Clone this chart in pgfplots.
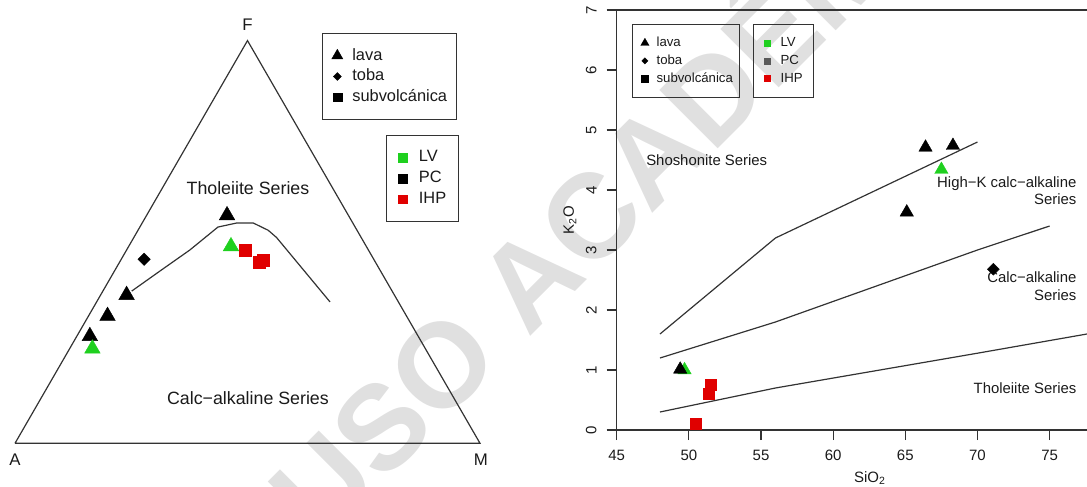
\documentclass[border=0pt]{standalone}
\usepackage{fontspec}
\setmainfont{Liberation Sans}
\usepackage{pgfplots}
\usepackage{pgfplotstable}
\pgfplotsset{compat=1.18}

\definecolor{ln}{HTML}{333333}
\definecolor{txt}{HTML}{1A1A1A}
\definecolor{lvg}{HTML}{1FD01F}
\definecolor{ihpr}{HTML}{E00000}
\definecolor{pcg}{HTML}{595959}
\definecolor{wm}{HTML}{E0E0E0}

% ---------- AFM diagram (percent A, F, M) ----------
\pgfplotstableread{
A F M
100 0 0
0 0 100
0 100 0
100 0 0
}\tri
\pgfplotstableread{
A F M
56.0 37.8 6.2
47.4 42.8 9.8
38.4 48.0 13.6
29.5 53.7 16.8
25.0 54.7 20.3
21.4 54.7 23.9
19.1 52.9 28.0
18.2 51.1 30.7
14.7 35.1 50.2
}\ib
\pgfplotstableread{
A F M
26.1 56.6 17.3
57.6 36.8 5.6
64.3 31.6 4.1
70.6 26.6 2.8
}\afmLavaPC
\pgfplotstableread{
A F M
29.1 48.9 22.0
71.6 23.5 4.9
}\afmLavaLV
\pgfplotstableread{
A F M
49.4 45.7 4.9
}\afmTobaPC
\pgfplotstableread{
A F M
26.5 48.0 25.5
25.0 45.0 30.0
23.9 45.4 30.7
}\afmSubIHP

% ---------- K2O vs SiO2 ----------
\pgfplotstableread{
x y
48 1.6
56 3.2
63 4.0
70 4.8
}\bndA
\pgfplotstableread{
x y
48 1.2
56 1.8
63 2.4
70 3.0
75 3.4
}\bndB
\pgfplotstableread{
x y
48 0.3
56 0.7
70 1.28
77.59 1.6
}\bndC
\pgfplotstableread{
x y
66.4 4.71
68.3 4.74
65.1 3.63
49.4 1.01
}\kLavaPC
\pgfplotstableread{
x y
67.5 4.34
49.7 1.00
}\kLavaLV
\pgfplotstableread{
x y
71.1 2.68
}\kTobaPC
\pgfplotstableread{
x y
51.5 0.75
51.35 0.60
50.5 0.10
}\kSubIHP

\newcommand{\afmx}{(\thisrow{M}+0.5*\thisrow{F})/100}
\newcommand{\afmy}{0.8660254*\thisrow{F}/100}

\begin{document}
\begin{tikzpicture}
\useasboundingbox (0,0) rectangle (543.5pt,243.5pt);
% watermark
\begin{scope}
\clip (0,0) rectangle (543.5pt,243.5pt);
\node[rotate=45, text=wm, font=\fontsize{60}{60}\selectfont\bfseries, inner sep=0pt, text height=43pt, text depth=0pt] at (328pt,168.5pt) {USO ACADÉMICO};
\end{scope}

% ================= LEFT: AFM =================
\begin{axis}[at={(7.5pt,21.85pt)}, anchor=south west, scale only axis,
  width=232.5pt, height=201.35pt, xmin=0, xmax=1, ymin=0, ymax=0.8660254,
  hide axis, clip=false]
\addplot[ln, line width=0.6pt, no markers] table[x expr=\afmx, y expr=\afmy] {\tri};
\addplot[ln, line width=0.6pt, no markers] table[x expr=\afmx, y expr=\afmy] {\ib};
\addplot[only marks, mark=triangle*, mark size=4.5pt, black, mark options={line width=0.2pt}] table[x expr=\afmx, y expr=\afmy] {\afmLavaPC};
\addplot[only marks, mark=triangle*, mark size=4.5pt, lvg, mark options={line width=0.2pt}] table[x expr=\afmx, y expr=\afmy] {\afmLavaLV};
\addplot[only marks, mark=square*, mark size=2.2pt, black, mark options={rotate=45, line width=0.2pt}] table[x expr=\afmx, y expr=\afmy] {\afmTobaPC};
\addplot[only marks, mark=square*, mark size=3.1pt, ihpr, mark options={line width=0.2pt}] table[x expr=\afmx, y expr=\afmy] {\afmSubIHP};
\node[anchor=base, inner sep=0pt, text=txt, font=\fontsize{8.9}{10}\selectfont] at (axis cs:0.501,0.536) {Tholeiite Series};
\node[anchor=base, inner sep=0pt, text=txt, font=\fontsize{8.9}{10}\selectfont] at (axis cs:0.501,0.0845) {Calc−alkaline Series};
\node[anchor=base, inner sep=0pt, text=txt, font=\fontsize{8.4}{10}\selectfont] at (axis cs:0.5,0.8867) {F};
\node[anchor=base, inner sep=0pt, text=txt, font=\fontsize{8.4}{10}\selectfont] at (axis cs:0,-0.0467) {A};
\node[anchor=base, inner sep=0pt, text=txt, font=\fontsize{8.4}{10}\selectfont] at (axis cs:1.002,-0.0467) {M};
\end{axis}

% left legend 1
\begin{axis}[at={(7.5pt,21.85pt)}, anchor=south west, scale only axis,
  width=232.5pt, height=201.35pt, xmin=0, xmax=1, ymin=0, ymax=1, hide axis,
  legend cell align=left,
  legend image code/.code={\path[draw=none,fill=none] (-3pt,0pt) -- (7.5pt,0pt); \draw plot[only marks] coordinates {(0pt,0pt)};},
  legend style={at={(0.6596,1.0196)}, anchor=north west, draw=ln, line width=0.6pt, fill=none,
    inner xsep=4.5pt, inner ysep=7.4pt, row sep=2.8pt, column sep=0pt,
    font=\fontsize{8.2}{9}\selectfont, text=txt,
    nodes={inner sep=0pt, text height=6pt, text depth=1.6pt}}]
\addlegendimage{only marks, mark=triangle*, mark size=3.2pt, black, mark options={line width=0.2pt}}
\addlegendimage{only marks, mark=square*, mark size=1.4pt, black, mark options={rotate=45, line width=0.2pt}}
\addlegendimage{only marks, mark=square*, mark size=2.2pt, black, mark options={line width=0.2pt}}
\legend{lava, toba, subvolcánica}
\end{axis}

% left legend 2
\begin{axis}[at={(7.5pt,21.85pt)}, anchor=south west, scale only axis,
  width=232.5pt, height=201.35pt, xmin=0, xmax=1, ymin=0, ymax=1, hide axis,
  legend cell align=left,
  legend image code/.code={\path[draw=none,fill=none] (-2.3pt,0pt) -- (8pt,0pt); \draw plot[only marks] coordinates {(0pt,0pt)};},
  legend style={at={(0.7972,0.7668)}, anchor=north west, draw=ln, line width=0.6pt, fill=none,
    inner xsep=6pt, inner ysep=7.4pt, row sep=2.8pt, column sep=0pt,
    font=\fontsize{8.2}{9}\selectfont, text=txt,
    nodes={inner sep=0pt, text height=6pt, text depth=1.6pt}}]
\addlegendimage{only marks, mark=square*, mark size=2.2pt, lvg, mark options={line width=0.2pt}}
\addlegendimage{only marks, mark=square*, mark size=2.2pt, black, mark options={line width=0.2pt}}
\addlegendimage{only marks, mark=square*, mark size=2.2pt, ihpr, mark options={line width=0.2pt}}
\legend{LV, PC, IHP}
\end{axis}

% ================= RIGHT: K2O vs SiO2 =================
\begin{axis}[at={(308.35pt,28.5pt)}, anchor=south west, scale only axis,
  width=235.15pt, height=210pt, xmin=45, xmax=77.59, ymin=0, ymax=7, clip=false,
  axis lines=left, axis line style={-, ln, line width=0.6pt},
  tick align=outside, major tick length=5pt, tick style={ln, line width=0.6pt},
  xtick={45,50,...,75}, ytick={0,1,...,7},
  /pgf/number format/assume math mode=true,
  ticklabel style={font=\fontsize{7.5}{9}\selectfont, text=txt},
  xticklabel style={yshift=-1.5pt},
  yticklabel style={xshift=-1.5pt, rotate=90, anchor=south},
  xlabel={SiO\textsubscript{2}}, ylabel={K\textsubscript{2}O},
  xlabel style={at={(axis description cs:0.5386,-0.1143)}, anchor=center, font=\fontsize{7.5}{9}\selectfont, text=txt},
  ylabel style={at={(axis description cs:-0.0993,0.5)}, anchor=center, font=\fontsize{7.5}{9}\selectfont, text=txt}]
\draw[ln, line width=0.6pt] (rel axis cs:0,1) -- (rel axis cs:1,1);
\addplot[ln, line width=0.6pt, no markers] table {\bndA};
\addplot[ln, line width=0.6pt, no markers] table {\bndB};
\addplot[ln, line width=0.6pt, no markers] table {\bndC};
\addplot[only marks, mark=triangle*, mark size=3.85pt, lvg, mark options={line width=0.2pt}] table {\kLavaLV};
\addplot[only marks, mark=triangle*, mark size=3.85pt, black, mark options={line width=0.2pt}] table {\kLavaPC};
\addplot[only marks, mark=square*, mark size=2.1pt, black, mark options={rotate=45, line width=0.2pt}] table {\kTobaPC};
\addplot[only marks, mark=square*, mark size=2.75pt, ihpr, mark options={line width=0.2pt}] table {\kSubIHP};
\node[anchor=base, inner sep=0pt, text=txt, font=\fontsize{7.45}{9}\selectfont] at (axis cs:51.24,4.41) {Shoshonite Series};
\node[anchor=base east, inner sep=0pt, text=txt, font=\fontsize{7.45}{9}\selectfont] at (axis cs:76.88,4.048) {High−K calc−alkaline};
\node[anchor=base east, inner sep=0pt, text=txt, font=\fontsize{7.45}{9}\selectfont] at (axis cs:76.88,3.76) {Series};
\node[anchor=base east, inner sep=0pt, text=txt, font=\fontsize{7.45}{9}\selectfont] at (axis cs:76.88,2.455) {Calc−alkaline};
\node[anchor=base east, inner sep=0pt, text=txt, font=\fontsize{7.45}{9}\selectfont] at (axis cs:76.88,2.16) {Series};
\node[anchor=base east, inner sep=0pt, text=txt, font=\fontsize{7.45}{9}\selectfont] at (axis cs:76.88,0.605) {Tholeiite Series};
\end{axis}

% right legend 1
\begin{axis}[at={(308.35pt,28.5pt)}, anchor=south west, scale only axis,
  width=235.15pt, height=210pt, xmin=0, xmax=1, ymin=0, ymax=1, hide axis,
  legend cell align=left,
  legend image code/.code={\path[draw=none,fill=none] (-2.95pt,0pt) -- (5.85pt,0pt); \draw plot[only marks] coordinates {(0pt,0pt)};},
  legend style={at={(0.0319,0.9667)}, anchor=north west, draw=ln, line width=0.6pt, fill=none,
    inner xsep=3.35pt, inner ysep=6.2pt, row sep=2.8pt, column sep=0pt,
    font=\fontsize{6.6}{8}\selectfont, text=txt,
    nodes={inner sep=0pt, text height=4.8pt, text depth=1.3pt}}]
\addlegendimage{only marks, mark=triangle*, mark size=2.4pt, black, mark options={line width=0.2pt}}
\addlegendimage{only marks, mark=square*, mark size=1.1pt, black, mark options={rotate=45, line width=0.2pt}}
\addlegendimage{only marks, mark=square*, mark size=1.65pt, black, mark options={line width=0.2pt}}
\legend{lava, toba, subvolcánica}
\end{axis}

% right legend 2
\begin{axis}[at={(308.35pt,28.5pt)}, anchor=south west, scale only axis,
  width=235.15pt, height=210pt, xmin=0, xmax=1, ymin=0, ymax=1, hide axis,
  legend cell align=left,
  legend image code/.code={\path[draw=none,fill=none] (-1.6pt,0pt) -- (6.65pt,0pt); \draw plot[only marks] coordinates {(0pt,0pt)};},
  legend style={at={(0.2892,0.9667)}, anchor=north west, draw=ln, line width=0.6pt, fill=none,
    inner xsep=5.4pt, inner ysep=6.2pt, row sep=2.8pt, column sep=0pt,
    font=\fontsize{6.6}{8}\selectfont, text=txt,
    nodes={inner sep=0pt, text height=4.8pt, text depth=1.3pt}}]
\addlegendimage{only marks, mark=square*, mark size=1.5pt, lvg, mark options={line width=0.2pt}}
\addlegendimage{only marks, mark=square*, mark size=1.5pt, pcg, mark options={line width=0.2pt}}
\addlegendimage{only marks, mark=square*, mark size=1.5pt, ihpr, mark options={line width=0.2pt}}
\legend{LV, PC, IHP}
\end{axis}
\end{tikzpicture}
\end{document}
